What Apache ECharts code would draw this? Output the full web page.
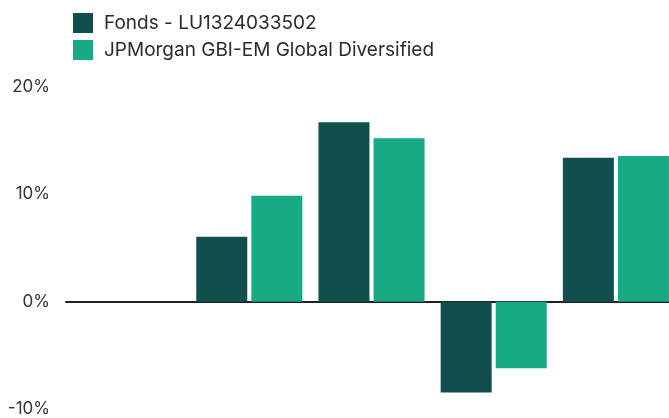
<!DOCTYPE html>
<html>
<head>
<meta charset="utf-8">
<script src="https://cdn.jsdelivr.net/npm/echarts@6/dist/echarts.min.js"></script>
<style>html,body{margin:0;padding:0;background:#fff;}#c{width:669px;height:418px;}</style>
</head>
<body>
<div id="c"></div>
<script>
var categories = ['2019', '2020', '2021', '2022', '2023'];
var fundName = 'Fonds - LU1324033502';
var benchName = 'JPMorgan GBI-EM Global Diversified';
var fundValues = [null, 6.05, 16.7, -8.45, 13.4];
var benchValues = [null, 9.85, 15.2, -6.2, 13.55];
var yTicks = [-10, 0, 10, 20];

var chart = echarts.init(document.getElementById('c'), null, {renderer: 'canvas'});
chart.setOption({
  animation: false,
  textStyle: {fontFamily: 'Inter, "Noto Sans", sans-serif'},
  legend: {
    orient: 'vertical',
    left: 73, top: 13, padding: 0,
    itemWidth: 20, itemHeight: 20, itemGap: 7,
    icon: 'rect',
    textStyle: {fontSize: 19, color: '#2b2b2b', padding: [0, 0, 0, 6]},
    data: [fundName, benchName]
  },
  grid: {left: 66, top: 86.7, width: 611, height: 322.5, containLabel: false, outerBoundsMode: 'none'},
  xAxis: {
    type: 'category',
    data: categories,
    axisLine: {show: true, onZero: true, lineStyle: {color: '#231f20', width: 2}},
    axisTick: {show: false},
    axisLabel: {show: false},
    splitLine: {show: false}
  },
  yAxis: {
    type: 'value',
    min: yTicks[0], max: yTicks[yTicks.length - 1], interval: 10,
    axisLine: {show: false},
    axisTick: {show: false},
    splitLine: {show: false},
    axisLabel: {
      formatter: function (v) { return v + '%'; },
      fontSize: 17, color: '#333', margin: 16,
      padding: [6, 0, 0, 0]
    }
  },
  series: [
    {name: fundName, type: 'bar', data: fundValues, barWidth: 51, barGap: '8%',
     itemStyle: {color: '#114e4e'}},
    {name: benchName, type: 'bar', data: benchValues, barWidth: 51,
     itemStyle: {color: '#18a985'}}
  ]
});
</script>
</body>
</html>
